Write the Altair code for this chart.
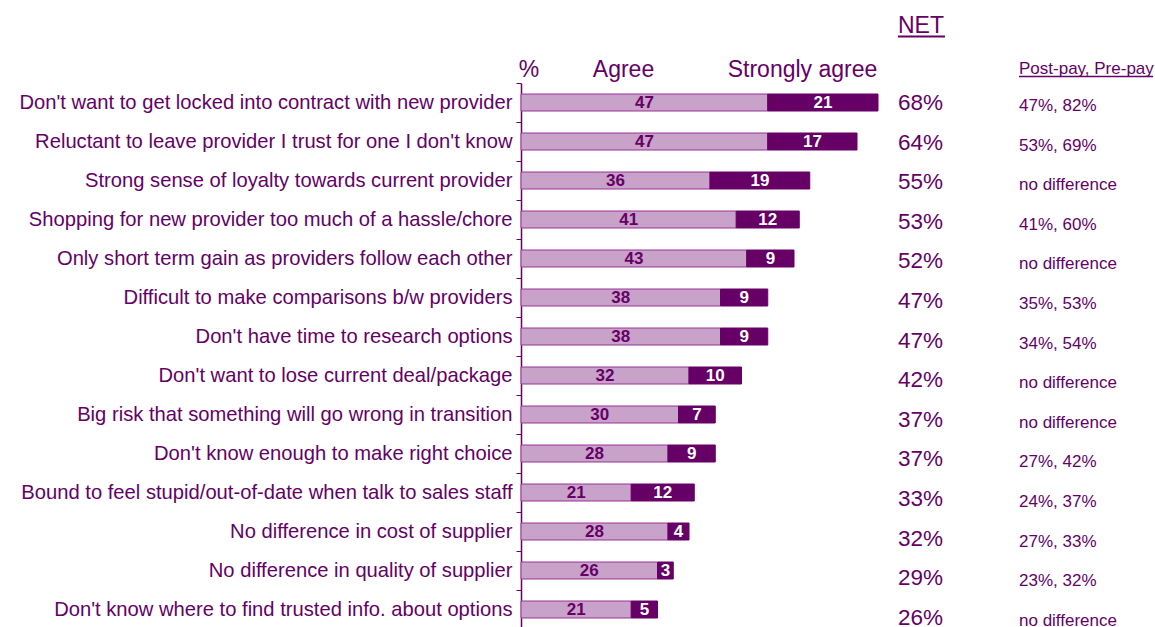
import altair as alt
import pandas as pd

labels = [
    "Don't want to get locked into contract with new provider",
    "Reluctant to leave provider I trust for one I don't know",
    "Strong sense of loyalty towards current provider",
    "Shopping for new provider too much of a hassle/chore",
    "Only short term gain as providers follow each other",
    "Difficult to make comparisons b/w providers",
    "Don't have time to research options",
    "Don't want to lose current deal/package",
    "Big risk that something will go wrong in transition",
    "Don't know enough to make right choice",
    "Bound to feel stupid/out-of-date when talk to sales staff",
    "No difference in cost of supplier",
    "No difference in quality of supplier",
    "Don't know where to find trusted info. about options",
]
agree = [47, 47, 36, 41, 43, 38, 38, 32, 30, 28, 21, 28, 26, 21]
strongly = [21, 17, 19, 12, 9, 9, 9, 10, 7, 9, 12, 4, 3, 5]
net = [68, 64, 55, 53, 52, 47, 47, 42, 37, 37, 33, 32, 29, 26]
post_pre = [
    "47%, 82%", "53%, 69%", "no difference", "41%, 60%", "no difference",
    "35%, 53%", "34%, 54%", "no difference", "no difference", "27%, 42%",
    "24%, 37%", "27%, 33%", "23%, 32%", "no difference",
]
segments = ["Agree", "Strongly agree"]
net_header = "NET"
pp_header = "Post-pay, Pre-pay"
pct_header = "%"

PURPLE = "#660066"
LIGHT = "#C8A2C8"
LIGHT_STROKE = "#993399"
FONT = "Liberation Sans"

rows = pd.DataFrame({
    "label": labels, "agree": agree, "strong": strongly,
    "net": net, "pp": post_pre, "idx": list(range(len(labels))),
})
long = pd.concat([
    pd.DataFrame({"label": labels, "seg": segments[0], "val": agree, "o": 0}),
    pd.DataFrame({"label": labels, "seg": segments[1], "val": strongly, "o": 1}),
])

ybar = alt.Y(
    "label:N", sort=labels,
    scale=alt.Scale(range=[0, 546], paddingInner=0, paddingOuter=0),
    axis=alt.Axis(
        title=None, labelFontSize=20.2, labelFont=FONT, labelColor=PURPLE,
        labelPadding=4, labelLimit=700, tickSize=5, tickColor=PURPLE,
        tickWidth=1, domainColor=PURPLE, domainWidth=1.5, tickBand="extent",
        grid=False,
    ),
)
xscale = alt.Scale(domain=[0, 120])

bars = alt.Chart(long).mark_bar(size=17, strokeWidth=1).encode(
    y=ybar,
    x=alt.X("val:Q", stack="zero", scale=xscale, axis=None),
    color=alt.Color("seg:N", scale=alt.Scale(domain=segments, range=[LIGHT, PURPLE]), legend=None),
    stroke=alt.Stroke("seg:N", scale=alt.Scale(domain=segments, range=[LIGHT_STROKE, PURPLE]), legend=None),
    order=alt.Order("o:Q"),
)

lab_a = alt.Chart(rows).transform_calculate(mid="datum.agree / 2").mark_text(
    font=FONT, fontSize=17, fontWeight="bold", color=PURPLE, baseline="middle", dy=0.5
).encode(
    y=alt.Y("label:N", sort=labels),
    x=alt.X("mid:Q", scale=xscale),
    text="agree:Q",
)
lab_s = alt.Chart(rows).transform_calculate(mid="datum.agree + datum.strong / 2").mark_text(
    font=FONT, fontSize=17, fontWeight="bold", color="white", baseline="middle", dy=0.5
).encode(
    y=alt.Y("label:N", sort=labels),
    x=alt.X("mid:Q", scale=xscale),
    text="strong:Q",
)
main = alt.layer(bars, lab_a, lab_s)

yq = alt.Y("idx:Q", scale=alt.Scale(domain=[0, 13], range=[20, 534.8]), axis=None)
net_txt = alt.Chart(rows).transform_calculate(t="datum.net + '%'").mark_text(
    font=FONT, fontSize=22.5, color=PURPLE, align="left", baseline="middle"
).encode(y=yq, x=alt.value(377), text="t:N")
pp_txt = alt.Chart(rows).mark_text(
    font=FONT, fontSize=17, color=PURPLE, align="left", baseline="middle", dy=3
).encode(y=yq, x=alt.value(498), text="pp:N")
cols = alt.layer(net_txt, pp_txt)

def header(txt, x, y, size, align="center"):
    return alt.Chart(pd.DataFrame({"t": [txt]})).mark_text(
        font=FONT, fontSize=size, color=PURPLE, align=align, baseline="alphabetic"
    ).encode(x=alt.value(x), y=alt.value(y), text="t:N")

h_pct = header(pct_header, 8, -6, 23)
h_agree = header(segments[0], 102.5, -6, 23)
h_strong = header(segments[1], 281.5, -6, 23)
h_net = header(net_header, 377, -50, 23, "left")
h_pp = header(pp_header, 498, -9, 17, "left")

ul_net = alt.Chart(pd.DataFrame({"t": [net_header]})).mark_rule(color=PURPLE, strokeWidth=2).encode(
    x=alt.value(377), x2=alt.value(424), y=alt.value(-46.5)
)
ul_pp = alt.Chart(pd.DataFrame({"t": [pp_header]})).mark_rule(color=PURPLE, strokeWidth=1.5).encode(
    x=alt.value(498), x2=alt.value(632), y=alt.value(-6.5)
)

chart = alt.layer(
    main, cols, h_pct, h_agree, h_strong, h_net, h_pp, ul_net, ul_pp
).resolve_scale(y="independent").properties(
    width=630, height=543,
    padding={"left": 521, "top": 83, "right": 4, "bottom": 1},
    autosize=alt.AutoSizeParams(type="none"),
    background="white",
).configure_view(stroke=None)

chart.save("out.html", embed_options={"renderer": "svg", "actions": False})
